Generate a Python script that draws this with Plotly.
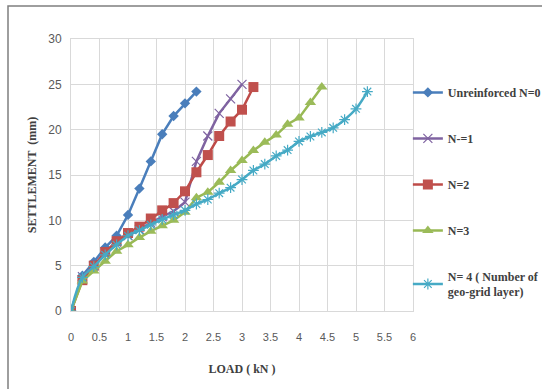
import plotly.graph_objects as go

# Data
x_n0 = [0, 0.2, 0.4, 0.6, 0.8, 1.0, 1.2, 1.4, 1.6, 1.8, 2.0, 2.2]
y_n0 = [0, 3.9, 5.4, 7.0, 8.3, 10.6, 13.5, 16.5, 19.5, 21.5, 22.9, 24.2]

x_n1 = [0, 0.2, 0.4, 0.6, 0.8, 1.0, 1.2, 1.4, 1.6, 1.8, 2.0, 2.2, 2.4, 2.6, 2.8, 3.0]
y_n1 = [0, 3.8, 5.0, 6.4, 7.6, 8.3, 9.0, 9.7, 10.4, 11.0, 12.0, 16.5, 19.3, 21.8, 23.4, 25.0]

x_n2 = [0, 0.2, 0.4, 0.6, 0.8, 1.0, 1.2, 1.4, 1.6, 1.8, 2.0, 2.2, 2.4, 2.6, 2.8, 3.0, 3.2]
y_n2 = [0, 3.4, 5.0, 6.5, 7.7, 8.6, 9.3, 10.2, 11.1, 11.9, 13.2, 15.3, 17.2, 19.3, 20.9, 22.2, 24.7]

x_n3 = [0, 0.2, 0.4, 0.6, 0.8, 1.0, 1.2, 1.4, 1.6, 1.8, 2.0, 2.2, 2.4, 2.6, 2.8, 3.0,
        3.2, 3.4, 3.6, 3.8, 4.0, 4.2, 4.4]
y_n3 = [0, 3.3, 4.4, 5.5, 6.6, 7.3, 8.1, 8.8, 9.4, 10.0, 10.9, 12.5, 13.1, 14.2, 15.5, 16.6,
        17.7, 18.6, 19.4, 20.6, 21.3, 23.0, 24.7]

x_n4 = [0, 0.2, 0.4, 0.6, 0.8, 1.0, 1.2, 1.4, 1.6, 1.8, 2.0, 2.2, 2.4, 2.6, 2.8, 3.0,
        3.2, 3.4, 3.6, 3.8, 4.0, 4.2, 4.4, 4.6, 4.8, 5.0, 5.2]
y_n4 = [0, 3.7, 4.9, 6.2, 7.3, 8.3, 8.9, 9.5, 10.1, 10.6, 11.1, 11.8, 12.3, 13.0, 13.6, 14.5,
        15.5, 16.2, 17.1, 17.75, 18.7, 19.25, 19.7, 20.2, 21.1, 22.3, 24.2]

names = ["Unreinforced N=0", "N-=1", "N=2", "N=3", "N= 4 ( Number of<br>geo-grid layer)"]

fig = go.Figure()
fig.add_trace(go.Scatter(x=x_n0, y=y_n0, name=names[0], mode="lines+markers",
                         line=dict(color="#4A7EBB", width=2.5),
                         marker=dict(symbol="diamond", size=8, color="#4A7EBB"),
                         legendgroup="a"))
fig.add_trace(go.Scatter(x=x_n1, y=y_n1, name=names[1], mode="lines+markers",
                         line=dict(color="#7F63A1", width=2.5),
                         marker=dict(symbol="x-thin-open", size=9,
                                     line=dict(color="#A48DC4", width=1.2)),
                         legendgroup="b"))
fig.add_trace(go.Scatter(x=x_n2, y=y_n2, name=names[2], mode="lines+markers",
                         line=dict(color="#BE4B48", width=2.5),
                         marker=dict(symbol="square", size=10, color="#C0504D"),
                         legendgroup="c"))
fig.add_trace(go.Scatter(x=x_n3, y=y_n3, name=names[3], mode="lines+markers",
                         line=dict(color="#98B954", width=2.5),
                         marker=dict(symbol="triangle-up", size=10, color="#9BBB59"),
                         legendgroup="d"))
fig.add_trace(go.Scatter(x=x_n4, y=y_n4, name=names[4], mode="lines+markers",
                         line=dict(color="#46AAC5", width=2.5, shape="spline"),
                         marker=dict(symbol="asterisk-open", size=9,
                                     line=dict(color="#7FCCE3", width=1.2)),
                         legendgroup="e"))

serif = "Liberation Serif"
fig.update_layout(
    width=542, height=389,
    margin=dict(l=71, r=129, t=39, b=78, autoexpand=False),
    paper_bgcolor="white", plot_bgcolor="white",
    font=dict(family="Liberation Sans", color="#595959", size=11),
    legend=dict(x=0.985, y=0.857, xanchor="left", yanchor="top",
                font=dict(family=serif, size=12, color="#404040", weight="bold"),
                tracegroupgap=27, bgcolor="rgba(0,0,0,0)", itemwidth=30),
    xaxis=dict(range=[0, 6], dtick=0.5, showgrid=True, gridcolor="#D9D9D9",
               showline=True, linecolor="#D9D9D9", mirror=True, zeroline=False,
               ticks="", ticklabelstandoff=16, automargin=False,
               tickfont=dict(family="Liberation Sans", size=11, color="#595959"),
               title=dict(text="LOAD ( kN )", standoff=22,
                          font=dict(family=serif, size=12, color="#404040", weight="bold"))),
    yaxis=dict(range=[0, 30], dtick=5, showgrid=True, gridcolor="#D9D9D9",
               showline=True, linecolor="#D9D9D9", mirror=True, zeroline=False,
               ticks="", ticklabelstandoff=6, automargin=False,
               tickfont=dict(family="Liberation Sans", size=12, color="#595959"),
               title=dict(text="SETTLEMENT  (mm)", standoff=9,
                          font=dict(family=serif, size=12, color="#404040", weight="bold"))),
    shapes=[dict(type="rect", xref="paper", yref="paper",
                 x0=-0.1842, x1=1.40, y0=-0.31, y1=1.1213,
                 line=dict(color="#7F7F7F", width=1.5), layer="below")],
)

fig.write_html("out.html", config={"displayModeBar": False},
               post_script="document.body.style.margin='0';")
